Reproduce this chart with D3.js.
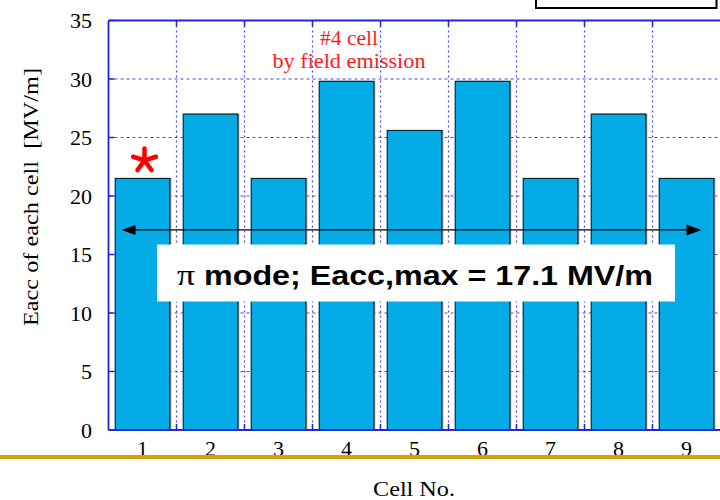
<!DOCTYPE html>
<html>
<head>
<meta charset="utf-8">
<script src="https://cdn.jsdelivr.net/npm/d3@7/dist/d3.min.js"></script>
<style>
  html, body { margin: 0; padding: 0; background: #fff; }
  svg { display: block; }
</style>
</head>
<body>
<svg id="chart" width="720" height="500"></svg>
<script>
// Accelerating field reached in each cell of the 9-cell cavity
const cells = [1, 2, 3, 4, 5, 6, 7, 8, 9];
const eacc = [21.5, 27.0, 21.5, 29.8, 25.6, 29.8, 21.5, 27.0, 21.5];
const yTicks = [0, 5, 10, 15, 20, 25, 30, 35];
const piModeMax = 17.1;          // MV/m, pi-mode limit
const limitedCell = 1;           // cell marked with the asterisk
const noteCell = 4;              // cell limited by field emission
const noteLines = ["#4 cell", "by field emission"];
const boxText = "mode; Eacc,max = 17.1 MV/m";

const svg = d3.select("#chart");
const W = 720, H = 500;
const margin = { left: 108.5, top: 20.5 };
const plotBottom = 430;

const x = d3.scaleLinear().domain([0.5, 9.5]).range([margin.left, margin.left + 9 * 68]);
const y = d3.scaleLinear().domain([0, 35]).range([plotBottom, margin.top]);

const blue = "#2424d8";
const serif = "'Liberation Serif', 'Times New Roman', serif";
const sans = "'Liberation Sans', Arial, sans-serif";

// dotted grid
const gridX = d3.range(1.5, 9.5, 1);
svg.append("g").selectAll("line").data(gridX).join("line")
  .attr("x1", d => x(d)).attr("x2", d => x(d))
  .attr("y1", y(35)).attr("y2", y(0))
  .attr("stroke", "#4a4af0").attr("stroke-width", 1.2)
  .attr("stroke-dasharray", "2,3");
svg.append("g").selectAll("line").data(yTicks.filter(d => d > 0 && d < 35)).join("line")
  .attr("x1", x(0.5)).attr("x2", W)
  .attr("y1", d => y(d)).attr("y2", d => y(d))
  .attr("stroke", "#4a4af0").attr("stroke-width", 1.2)
  .attr("stroke-dasharray", "3,3");

// bars with a light shadow on the right edge
const bw = 54.5;
const bars = svg.append("g");
bars.selectAll("rect.shadow").data(cells).join("rect")
  .attr("class", "shadow")
  .attr("x", (d, i) => x(d) - bw / 2 + 1.5)
  .attr("y", (d, i) => y(eacc[i]) - 0.5)
  .attr("width", bw)
  .attr("height", (d, i) => y(0) - y(eacc[i]) + 0.5)
  .attr("fill", "#8a8a8a");
bars.selectAll("rect.bar").data(cells).join("rect")
  .attr("class", "bar")
  .attr("x", (d, i) => x(d) - bw / 2)
  .attr("y", (d, i) => y(eacc[i]))
  .attr("width", bw)
  .attr("height", (d, i) => y(0) - y(eacc[i]))
  .attr("fill", "#03ace6")
  .attr("stroke", "#0e2a33").attr("stroke-width", 1.2);

// axes frame
const axisG = svg.append("g");
axisG.append("line").attr("x1", x(0.5)).attr("x2", x(0.5)).attr("y1", y(35)).attr("y2", y(0))
  .attr("stroke", blue).attr("stroke-width", 1.8);
axisG.append("line").attr("x1", x(0.5)).attr("x2", W).attr("y1", y(0)).attr("y2", y(0))
  .attr("stroke", blue).attr("stroke-width", 1.8);
axisG.append("line").attr("x1", x(0.5)).attr("x2", W).attr("y1", y(35)).attr("y2", y(35))
  .attr("stroke", blue).attr("stroke-width", 1.8);
// inward ticks
axisG.selectAll("line.yt").data(yTicks).join("line").attr("class", "yt")
  .attr("x1", x(0.5)).attr("x2", x(0.5) + 6)
  .attr("y1", d => y(d)).attr("y2", d => y(d))
  .attr("stroke", blue).attr("stroke-width", 1.5);
axisG.selectAll("line.xt").data(gridX).join("line").attr("class", "xt")
  .attr("x1", d => x(d)).attr("x2", d => x(d))
  .attr("y1", y(35)).attr("y2", y(35) + 6)
  .attr("stroke", blue).attr("stroke-width", 1.5);
axisG.selectAll("line.xb").data(gridX).join("line").attr("class", "xb")
  .attr("x1", d => x(d)).attr("x2", d => x(d))
  .attr("y1", y(0)).attr("y2", y(0) - 6)
  .attr("stroke", blue).attr("stroke-width", 1.5);

// tick labels
svg.append("g").selectAll("text").data(yTicks).join("text")
  .attr("x", 92).attr("y", d => y(d) + 7.5)
  .attr("text-anchor", "end")
  .attr("font-family", serif).attr("font-size", 22)
  .text(d => d);
svg.append("g").selectAll("text").data(cells).join("text")
  .attr("x", d => x(d)).attr("y", 456)
  .attr("text-anchor", "middle")
  .attr("font-family", serif).attr("font-size", 22)
  .text(d => d);

// axis titles
svg.append("text")
  .attr("transform", `translate(38,197) rotate(-90)`)
  .attr("text-anchor", "middle")
  .attr("font-family", serif).attr("font-size", 22)
  .attr("textLength", 258).attr("lengthAdjust", "spacingAndGlyphs")
  .attr("xml:space", "preserve")
  .text("Eacc of each cell  [MV/m]");
svg.append("text")
  .attr("x", 414).attr("y", 496)
  .attr("text-anchor", "middle")
  .attr("font-family", serif).attr("font-size", 22)
  .attr("textLength", 82).attr("lengthAdjust", "spacingAndGlyphs")
  .text("Cell No.");

// gold rule under the axis
svg.append("line").attr("x1", 0).attr("x2", W).attr("y1", 457).attr("y2", 457)
  .attr("stroke", "#d4a106").attr("stroke-width", 4);

// legend frame edge at top right
svg.append("path")
  .attr("d", "M536,-2 L536,8 L716.5,8 L716.5,-2")
  .attr("fill", "none").attr("stroke", "#000").attr("stroke-width", 2);

// field-emission note
const noteW = [58, 153];
noteLines.forEach((t, i) => {
  svg.append("text")
    .attr("x", x(noteCell) + 2.5).attr("y", 45 + i * 23)
    .attr("text-anchor", "middle")
    .attr("font-family", serif).attr("font-size", 20)
    .attr("fill", "#ff1a1a")
    .attr("textLength", noteW[i]).attr("lengthAdjust", "spacingAndGlyphs")
    .text(t);
});

// asterisk above the first cell
const ax = x(limitedCell) + 2, ay = y(eacc[limitedCell - 1]) - 18, r = 12;
const arms = d3.range(5).map(k => {
  const a = -Math.PI / 2 + k * 2 * Math.PI / 5;
  return `M${ax},${ay} L${ax + r * Math.cos(a)},${ay + r * Math.sin(a)}`;
}).join(" ");
svg.append("path").attr("d", arms)
  .attr("stroke", "#ff0000").attr("stroke-width", 4.5)
  .attr("stroke-linecap", "round").attr("fill", "none");

// pi-mode limit as a double arrow
const ya = y(piModeMax);
const xl = x(1) - 21, xr = x(9) + 15;
svg.append("line").attr("x1", xl + 10).attr("x2", xr - 10).attr("y1", ya).attr("y2", ya)
  .attr("stroke", "#000").attr("stroke-width", 1.2);
svg.append("path").attr("d", `M${xl},${ya} L${xl + 14},${ya - 5} L${xl + 14},${ya + 5} Z`).attr("fill", "#000");
svg.append("path").attr("d", `M${xr},${ya} L${xr - 15},${ya - 5.5} L${xr - 15},${ya + 5.5} Z`).attr("fill", "#000");

// label box
svg.append("rect").attr("x", 157).attr("y", 244.5).attr("width", 518).attr("height", 57)
  .attr("fill", "#fff");
const bt = svg.append("text")
  .attr("x", 177).attr("y", 285)
  .attr("font-family", sans).attr("font-size", 27).attr("font-weight", "bold")
  .attr("textLength", 476).attr("lengthAdjust", "spacingAndGlyphs");
bt.append("tspan").attr("font-family", serif).attr("font-weight", "normal").attr("font-size", 30).text("π");
bt.append("tspan").text(" " + boxText);
</script>
</body>
</html>
